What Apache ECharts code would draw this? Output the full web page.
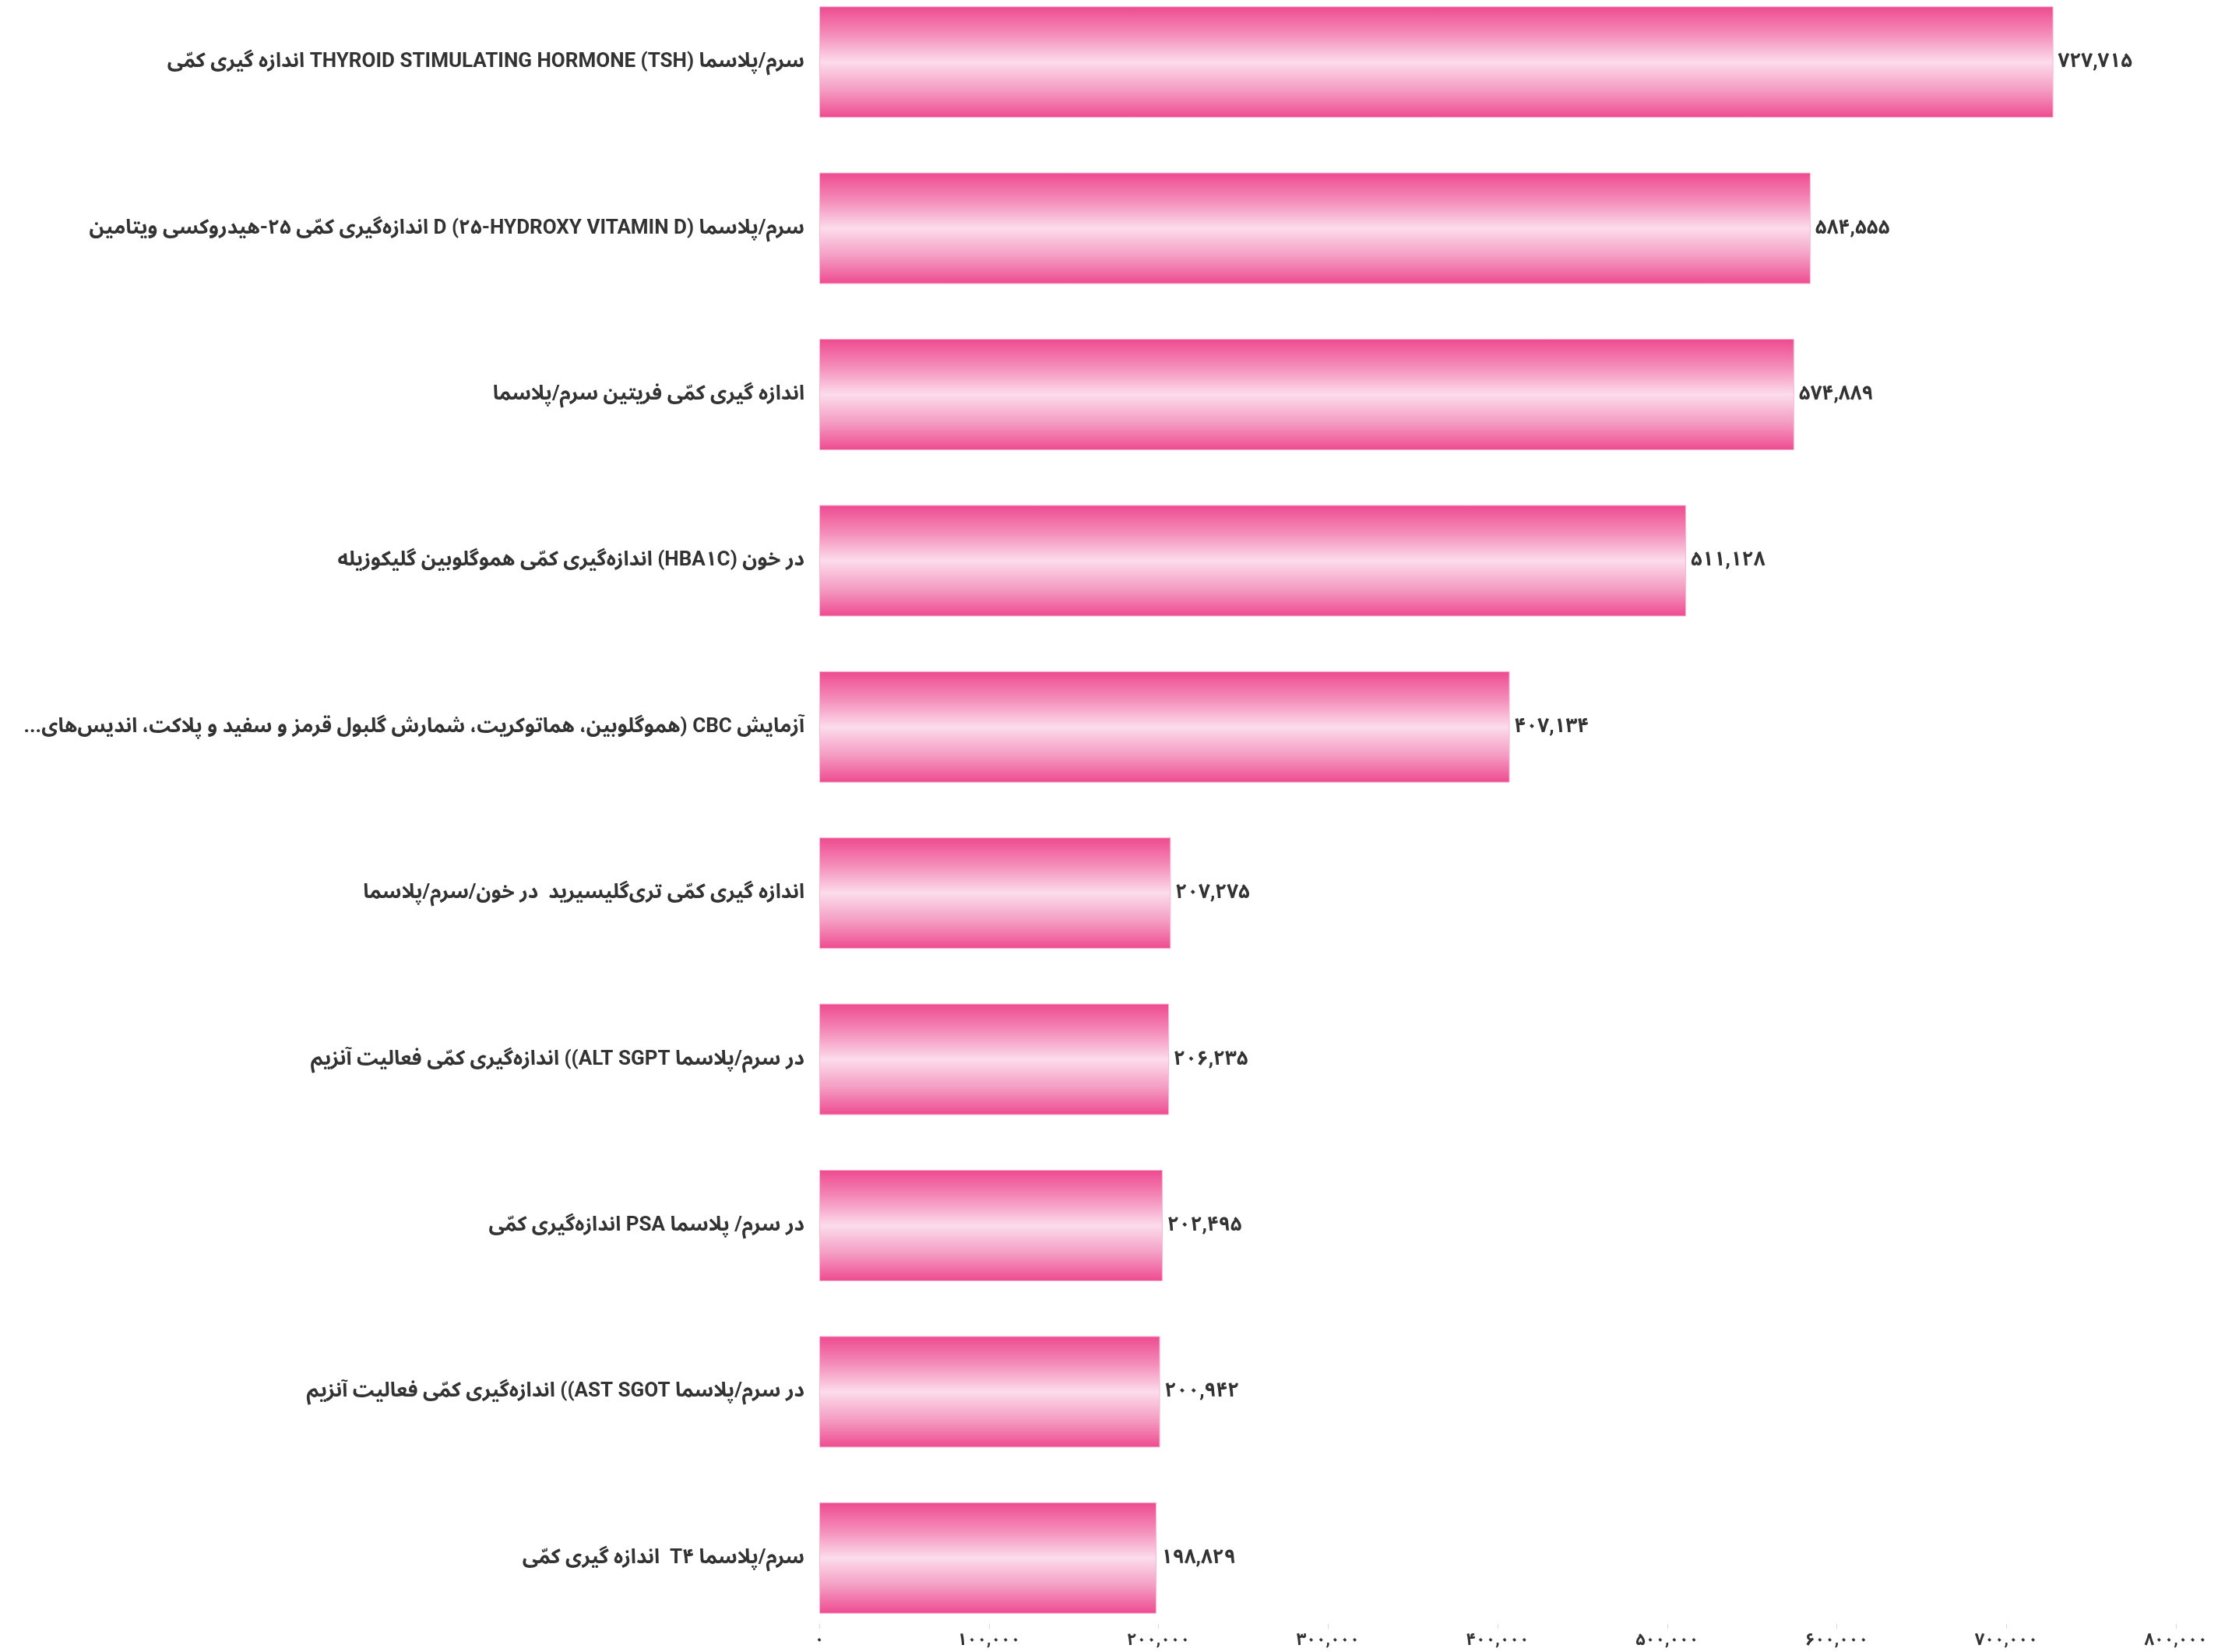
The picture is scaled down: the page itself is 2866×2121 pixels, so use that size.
<!DOCTYPE html>
<html>
<head>
<meta charset="utf-8">
<script src="https://cdn.jsdelivr.net/npm/echarts@6/dist/echarts.min.js"></script>
<style>
  html, body { margin: 0; padding: 0; background: #fff; overflow: hidden; }
  /* the source page is right-to-left, so canvas text runs rtl too */
  #chart { position: absolute; left: 0; top: -27px; width: 2866px; height: 2148px; direction: rtl; }
</style>
</head>
<body>
<div id="chart"></div>
<script>
const categories = [
  "سرم/پلاسما (THYROID STIMULATING HORMONE (TSH اندازه گیری کمّی",
  "سرم/پلاسما (D (۲۵-HYDROXY VITAMIN D اندازه‌گیری کمّی ۲۵-هیدروکسی ویتامین",
  "اندازه گیری کمّی فریتین سرم/پلاسما ",
  "در خون (HBA۱C) اندازه‌گیری کمّی هموگلوبین گلیکوزیله",
  "آزمایش CBC (هموگلوبین، هماتوکریت، شمارش گلبول قرمز و سفید و پلاکت، اندیس‌های...",
  "اندازه گیری کمّی تری‌گلیسیرید  در خون/سرم/پلاسما",
  "در سرم/پلاسما ALT SGPT)) اندازه‌گیری کمّی فعالیت آنزیم",
  "در سرم/ پلاسما PSA اندازه‌گیری کمّی",
  "در سرم/پلاسما AST SGOT)) اندازه‌گیری کمّی فعالیت آنزیم",
  "سرم/پلاسما T۴  اندازه گیری کمّی",
];
const counts = [727715, 584555, 574889, 511128, 407134, 207275, 206235, 202495, 200942, 198829];
const axisMax = 800000;
const axisStep = 100000;

const faDigits = "۰۱۲۳۴۵۶۷۸۹";
function toFa(value) {
  return String(value)
    .replace(/\B(?=(\d{3})+(?!\d))/g, ",")
    .replace(/\d/g, (d) => faDigits[d]);
}

const font = "Roboto, 'Noto Sans Arabic', 'DejaVu Sans', sans-serif";

const barColor = new echarts.graphic.LinearGradient(0, 0, 0, 1, [
  { offset: 0, color: "#ee4a8f" },
  { offset: 0.25, color: "#f48cb9" },
  { offset: 0.5, color: "#fcdceb" },
  { offset: 0.75, color: "#f49dc3" },
  { offset: 1, color: "#ee4a8f" },
]);

const chart = echarts.init(document.getElementById("chart"));
chart.setOption({
  animation: false,
  backgroundColor: "#ffffff",
  grid: { left: 1052, right: 72, top: 0, bottom: 14 },
  xAxis: {
    type: "value",
    min: 0,
    max: axisMax,
    interval: axisStep,
    offset: -22,
    axisLine: { show: false },
    axisTick: { show: true, length: 6, lineStyle: { color: "#d8d8d8" } },
    splitLine: { show: false },
    axisLabel: {
      color: "#333",
      fontFamily: font,
      fontWeight: "bold",
      fontSize: 22,
      margin: 10,
      formatter: (value) => toFa(value),
    },
  },
  yAxis: {
    type: "category",
    inverse: true,
    data: categories,
    axisLine: { show: false },
    axisTick: { show: false },
    axisLabel: {
      color: "#333",
      fontFamily: font,
      fontWeight: "bold",
      fontSize: 26,
      margin: 19,
    },
  },
  series: [
    {
      type: "bar",
      data: counts,
      barCategoryGap: "33%",
      itemStyle: { color: barColor, borderColor: "#f7b9d4", borderWidth: 1 },
      label: {
        show: true,
        position: "right",
        distance: 6,
        color: "#333",
        fontFamily: font,
        fontWeight: "bold",
        fontSize: 26,
        formatter: (params) => toFa(params.value),
      },
    },
  ],
});
</script>
</body>
</html>
